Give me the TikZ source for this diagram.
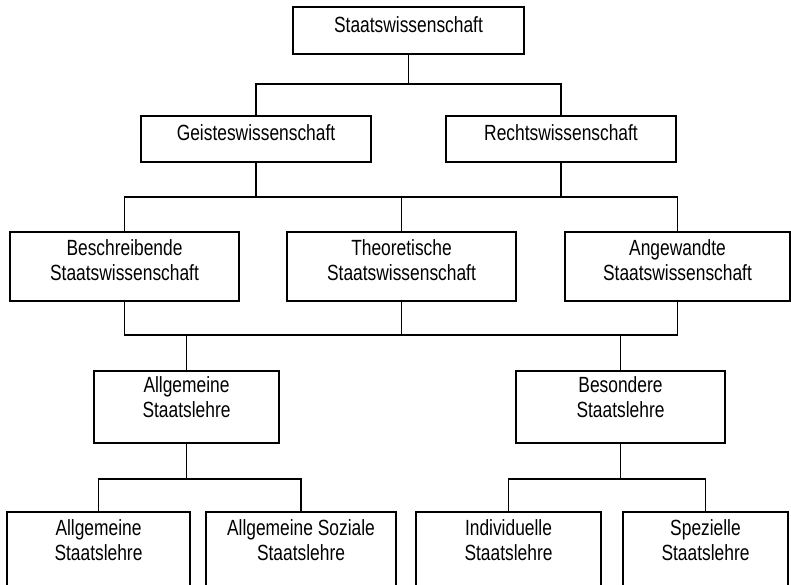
\documentclass[tikz,border=0pt]{standalone}
\usepackage{fontspec}
\setmainfont{Liberation Sans}[FakeStretch=0.79]
\begin{document}
\begin{tikzpicture}[x=1pt,y=-1pt,
  box/.style={draw=black,line width=1.6pt,inner sep=0pt,minimum width=#1},
  txt/.style={anchor=base,align=center,inner sep=0pt,font=\fontsize{22}{24.7}\selectfont},
  conn/.style={draw=black,line width=1.6pt}]
\useasboundingbox (0,0) rectangle (791,584);
\clip (0,0) rectangle (791,584);
\fill[white] (0,0) rectangle (791,584);
% boxes
\node[box=231,minimum height=47] (s) at (408.5,30.5) {};
\node[box=230,minimum height=46] (g) at (256,139) {};
\node[box=230,minimum height=46] (r) at (561,139) {};
\node[box=229,minimum height=69] (b) at (124.5,266.5) {};
\node[box=229,minimum height=69] (t) at (401.5,266.5) {};
\node[box=225,minimum height=69] (a) at (677.5,266.5) {};
\node[box=185,minimum height=72] (as) at (186.5,407) {};
\node[box=209,minimum height=72] (bs) at (620.5,407) {};
\node[box=183,minimum height=90] (b1) at (98.5,557) {};
\node[box=190,minimum height=90] (b2) at (301,557) {};
\node[box=185,minimum height=90] (b3) at (508.5,557) {};
\node[box=165,minimum height=90] (b4) at (705.5,557) {};
% texts (base anchor = last line baseline)
\node[txt] (ts) at (408.5,32) {Staatswissenschaft};
\node[txt] (tg) at (256,140) {Geisteswissenschaft};
\node[txt] (tr) at (561,140) {Rechtswissenschaft};
\node[txt] (tb) at (124.5,280) {Beschreibende\\Staatswissenschaft};
\node[txt] (tt) at (401.5,280) {Theoretische\\Staatswissenschaft};
\node[txt] (ta) at (677.5,280) {Angewandte\\Staatswissenschaft};
\node[txt] (tas) at (186.5,417) {Allgemeine\\Staatslehre};
\node[txt] (tbs) at (620.5,417) {Besondere\\Staatslehre};
\node[txt] (t1) at (98.5,560.5) {Allgemeine\\Staatslehre};
\node[txt] (t2) at (301,560.5) {Allgemeine Soziale\\Staatslehre};
\node[txt] (t3) at (508.5,560.5) {Individuelle\\Staatslehre};
\node[txt] (t4) at (705.5,560.5) {Spezielle\\Staatslehre};
% connectors level 1
\draw[conn] (s.south) -- (s.south |- 0,84);
\draw[conn] (g.north) -- (g.north |- 0,84) -- (r.north |- 0,84) -- (r.north);
% level 2
\draw[conn] (g.south) -- (g.south |- 0,197);
\draw[conn] (r.south) -- (r.south |- 0,197);
\draw[conn] (b.north) -- (b.north |- 0,197) -- (a.north |- 0,197) -- (a.north);
\draw[conn] (t.north) -- (t.north |- 0,197);
% level 3
\draw[conn] (b.south) -- (b.south |- 0,335) -- (a.south |- 0,335) -- (a.south);
\draw[conn] (t.south) -- (t.south |- 0,335);
\draw[conn] (as.north) -- (as.north |- 0,335);
\draw[conn] (bs.north) -- (bs.north |- 0,335);
% level 4
\draw[conn] (as.south) -- (as.south |- 0,479);
\draw[conn] (b1.north) -- (b1.north |- 0,479) -- (b2.north |- 0,479) -- (b2.north);
\draw[conn] (bs.south) -- (bs.south |- 0,479);
\draw[conn] (b3.north) -- (b3.north |- 0,479) -- (b4.north |- 0,479) -- (b4.north);
\end{tikzpicture}
\end{document}
